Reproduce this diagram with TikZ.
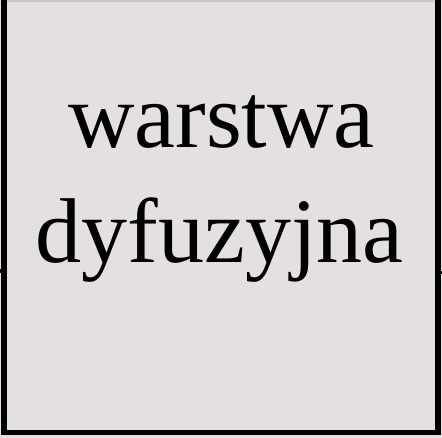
\documentclass[tikz,border=0pt]{standalone}
\usepackage{fontspec}
\setmainfont{Liberation Serif}
\definecolor{panelbg}{RGB}{227,224,223}
\definecolor{edgegrey}{RGB}{200,198,198}
\begin{document}
\begin{tikzpicture}[x=1bp,y=1bp,
  bigtext/.style={inner sep=0pt,anchor=base,font=\fontsize{92bp}{115bp}\selectfont},
  bar/.style={fill=black,draw=none}]
\useasboundingbox (0,0) rectangle (442,438);
\fill[panelbg] (0,0) rectangle (442,438);
\fill[edgegrey] (7,435.5) rectangle (434,437.5);
\fill[bar] (1,2.5) rectangle (7,438);
\fill[bar] (434.5,2.5) rectangle (440.5,438);
\fill[bar] (1,2.5) rectangle (440.5,8);
\fill[bar] (0,165) rectangle (1,169);
\fill[bar] (440.5,164) rectangle (442,167);
\node[bigtext] (l1) at (221.5,290) {warstwa};
\node[bigtext] (l2) at (219.5,175) {dyfuzyjna};
\end{tikzpicture}
\end{document}
